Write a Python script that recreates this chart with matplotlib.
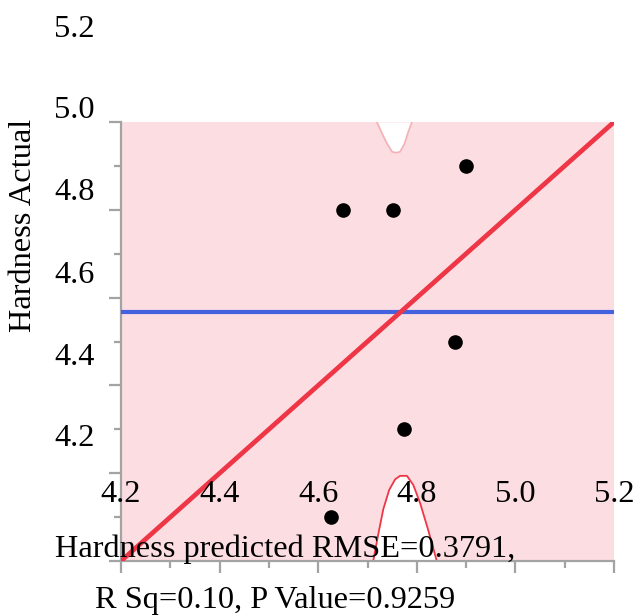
import numpy as np
import matplotlib
matplotlib.use("Agg")
import matplotlib.pyplot as plt
from matplotlib.transforms import blended_transform_factory

# data
predicted = [4.650, 4.752, 4.900, 4.877, 4.774, 4.626]
actual = [5.0, 5.0, 5.1, 4.7, 4.5, 4.3]

# confidence curves
upper_x = [4.719, 4.729, 4.740, 4.750, 4.758, 4.766, 4.775, 4.782, 4.790]
upper_y = [5.200, 5.175, 5.150, 5.132, 5.130, 5.132, 5.150, 5.175, 5.200]
lower_x = [4.712, 4.722, 4.732, 4.744, 4.756, 4.766, 4.780, 4.793, 4.807, 4.823, 4.840]
lower_y = [4.202, 4.262, 4.318, 4.362, 4.386, 4.394, 4.394, 4.373, 4.331, 4.271, 4.202]

x_ticklabels = ["4.2", "4.4", "4.6", "4.8", "5.0", "5.2"]
y_ticklabels = ["5.2", "5.0", "4.8", "4.6", "4.4", "4.2"]

x_label = "Hardness predicted RMSE=0.3791,"
stats_label = "R Sq=0.10, P Value=0.9259"
y_label = "Hardness Actual"

PINK = "#FCDEE2"
RED = "#EE3646"
BLUE = "#4563DE"
GRAY = "#A3A3A3"
W, H = 640, 616

plt.rcParams["font.family"] = ["Liberation Serif", "DejaVu Serif"]

fig = plt.figure(figsize=(W / 100, H / 100), dpi=100)
ax = fig.add_axes([121 / W, 1 - 561 / H, 493 / W, 439 / H])
ax.set_xlim(4.2, 5.2)
ax.set_ylim(4.2, 5.2)
ax.set_facecolor(PINK)

# white areas outside the confidence band
ax.fill_between(upper_x, upper_y, 5.2, color="white", lw=0, zorder=1)
ax.fill_between(lower_x, 4.2, lower_y, color="white", lw=0, zorder=1)
ax.plot(upper_x, upper_y, color="#F4B3B8", lw=1.3, zorder=2)
ax.plot(lower_x, lower_y, color=RED, lw=1.3, zorder=2)

ax.axhline(np.mean(actual), color=BLUE, lw=3, zorder=3)
ax.axline((0, 0), slope=1, color=RED, lw=3.4, zorder=4)
ax.plot(predicted, actual, "o", color="black", ms=9.5, zorder=5)

for side in ["top", "right"]:
    ax.spines[side].set_visible(False)
for side in ["left", "bottom"]:
    ax.spines[side].set_color(GRAY)
    ax.spines[side].set_linewidth(1.6)

ticks = np.round(np.arange(4.2, 5.21, 0.2), 1)
minor = np.round(np.arange(4.3, 5.2, 0.2), 1)
ax.set_xticks(ticks)
ax.set_yticks(ticks)
ax.set_xticks(minor, minor=True)
ax.set_yticks(minor, minor=True)
ax.tick_params(which="both", color=GRAY, width=1.6, labelbottom=False, labelleft=False)
ax.tick_params(which="major", length=8.6)
ax.tick_params(which="minor", length=5)

fs = 23.3
# y tick labels are drawn shifted, as in the reference
y_label_base = [37, 118, 200, 283, 365, 446]
for lab, yb in zip(y_ticklabels, y_label_base):
    fig.text(95 / W, 1 - yb / H, lab, ha="right", va="baseline", fontsize=fs)

trans = blended_transform_factory(ax.transData, fig.transFigure)
for lab, xv in zip(x_ticklabels, ticks):
    fig.text(xv, 1 - 502 / H, lab, ha="center", va="baseline", fontsize=fs,
             transform=trans)

fig.text(55 / W, 1 - 557 / H, x_label, ha="left", va="baseline", fontsize=fs)
fig.text(95 / W, 1 - 608 / H, stats_label, ha="left", va="baseline", fontsize=fs)
fig.text(24 / W, 1 - 225 / H, y_label, rotation=90, ha="center", va="center",
         fontsize=fs)

fig.savefig("out.png", dpi=100)
